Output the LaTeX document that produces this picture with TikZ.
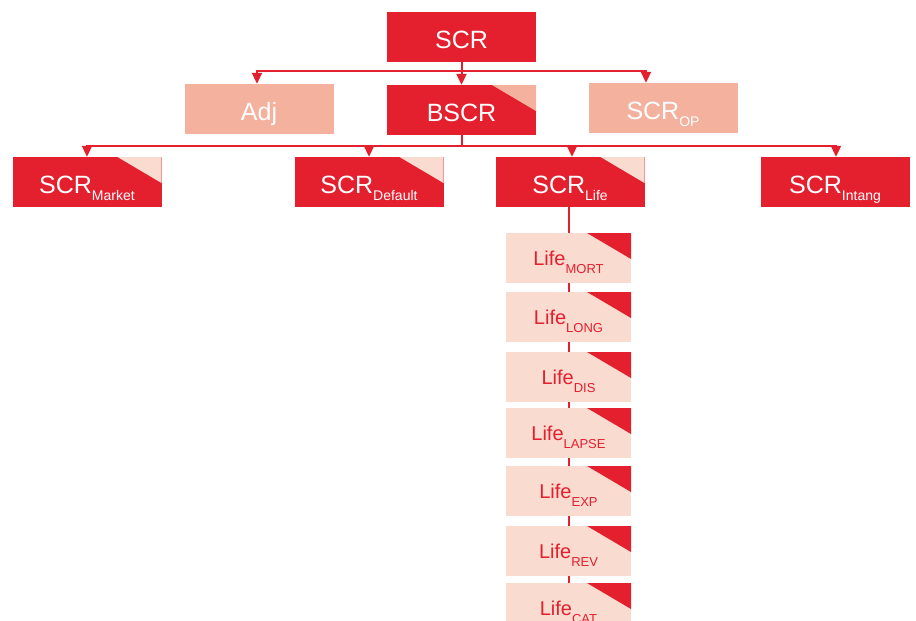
\documentclass[tikz,border=0pt]{standalone}
\usepackage{fontspec}
\setmainfont{Liberation Sans}
\usetikzlibrary{arrows.meta,backgrounds}

\definecolor{sred}{HTML}{E41F2E}
\definecolor{ssalmon}{HTML}{F4B19D}
\definecolor{spale}{HTML}{FADBD0}

% lowered subscripts for the two text sizes
\newcommand\bigsub[1]{\raisebox{-7pt}{\fontsize{14}{14}\selectfont #1}}
\newcommand\lifesub[1]{\raisebox{-8pt}{\fontsize{13}{13}\selectfont #1}}

\tikzset{
  box/.style={rectangle, inner sep=0pt, minimum width=149pt, minimum height=50pt,
    text height=29pt, text depth=7pt, font=\fontsize{25}{25}\selectfont},
  redbox/.style={box, fill=sred, text=white},
  softbox/.style={box, fill=ssalmon, text=white},
  corner/.style={path picture={
    \fill[#1] ([xshift=-44pt]path picture bounding box.north east)
      -- (path picture bounding box.north east)
      -- ([yshift=-26pt]path picture bounding box.north east) -- cycle;}},
  lifebox/.style={rectangle, inner sep=0pt, minimum width=125pt, minimum height=50pt,
    fill=spale, text=sred, text height=22pt, text depth=8pt,
    font=\fontsize{20}{20}\selectfont, corner=sred},
  conn/.style={draw=sred, line width=2pt},
  arr/.style={conn, -{Triangle[width=10pt,length=11pt]}},
}

\begin{document}
\begin{tikzpicture}[x=1pt, y=-1pt]
\clip (0,0) rectangle (916,621);
\begin{pgfonlayer}{background}
\fill[white] (0,0) rectangle (916,621);
\end{pgfonlayer}

% top level
\node[redbox] (scr) at (461.5,37) {SCR};

% second level
\node[softbox] (adj) at (259,109) {Adj};
\node[redbox, corner=ssalmon] (bscr) at (461.5,110) {BSCR};
\node[softbox] (op) at (663,108) {SCR\bigsub{OP}};

% third level
\node[redbox, corner=spale] (mkt) at (87,182) {SCR\bigsub{Market}};
\node[redbox, corner=spale] (dft) at (369,182) {SCR\bigsub{Default}};
\node[redbox, corner=spale] (life) at (570,182) {SCR\bigsub{Life}};
\node[redbox] (int) at (835,182) {SCR\bigsub{Intang}};

% life sub-modules
\node[lifebox] (mort) at (568.5,258) {Life\lifesub{MORT}};
\node[lifebox] (long) at (568.5,317) {Life\lifesub{LONG}};
\node[lifebox] (dis) at (568.5,377) {Life\lifesub{DIS}};
\node[lifebox] (lapse) at (568.5,433) {Life\lifesub{LAPSE}};
\node[lifebox] (exp) at (568.5,491) {Life\lifesub{EXP}};
\node[lifebox] (rev) at (568.5,551) {Life\lifesub{REV}};
\node[lifebox] (cat) at (568.5,608) {Life\lifesub{CAT}};

% connectors
\coordinate (j1) at (461.5,71);
\draw[conn] (scr.south) -- (j1);
\draw[arr] (j1) -| ([xshift=-2pt]adj.north);
\draw[arr] (j1) -| (bscr.north);
\draw[arr] (j1) -| ([xshift=-17pt]op.north);

\coordinate (j2) at (461.5,146);
\draw[conn] (bscr.south) -- (j2);
\draw[arr] (j2) -| (mkt.north);
\draw[arr] (j2) -| (dft.north);
\draw[arr] (j2) -| ([xshift=2pt]life.north);
\draw[arr] (j2) -| ([xshift=1pt]int.north);

% spine behind the life sub-modules
\coordinate (lifeend) at (569,621);
\begin{pgfonlayer}{background}
\draw[conn] ([xshift=-1pt]life.south) -- ([xshift=-1pt]life.south |- lifeend);
\end{pgfonlayer}
\end{tikzpicture}
\end{document}
